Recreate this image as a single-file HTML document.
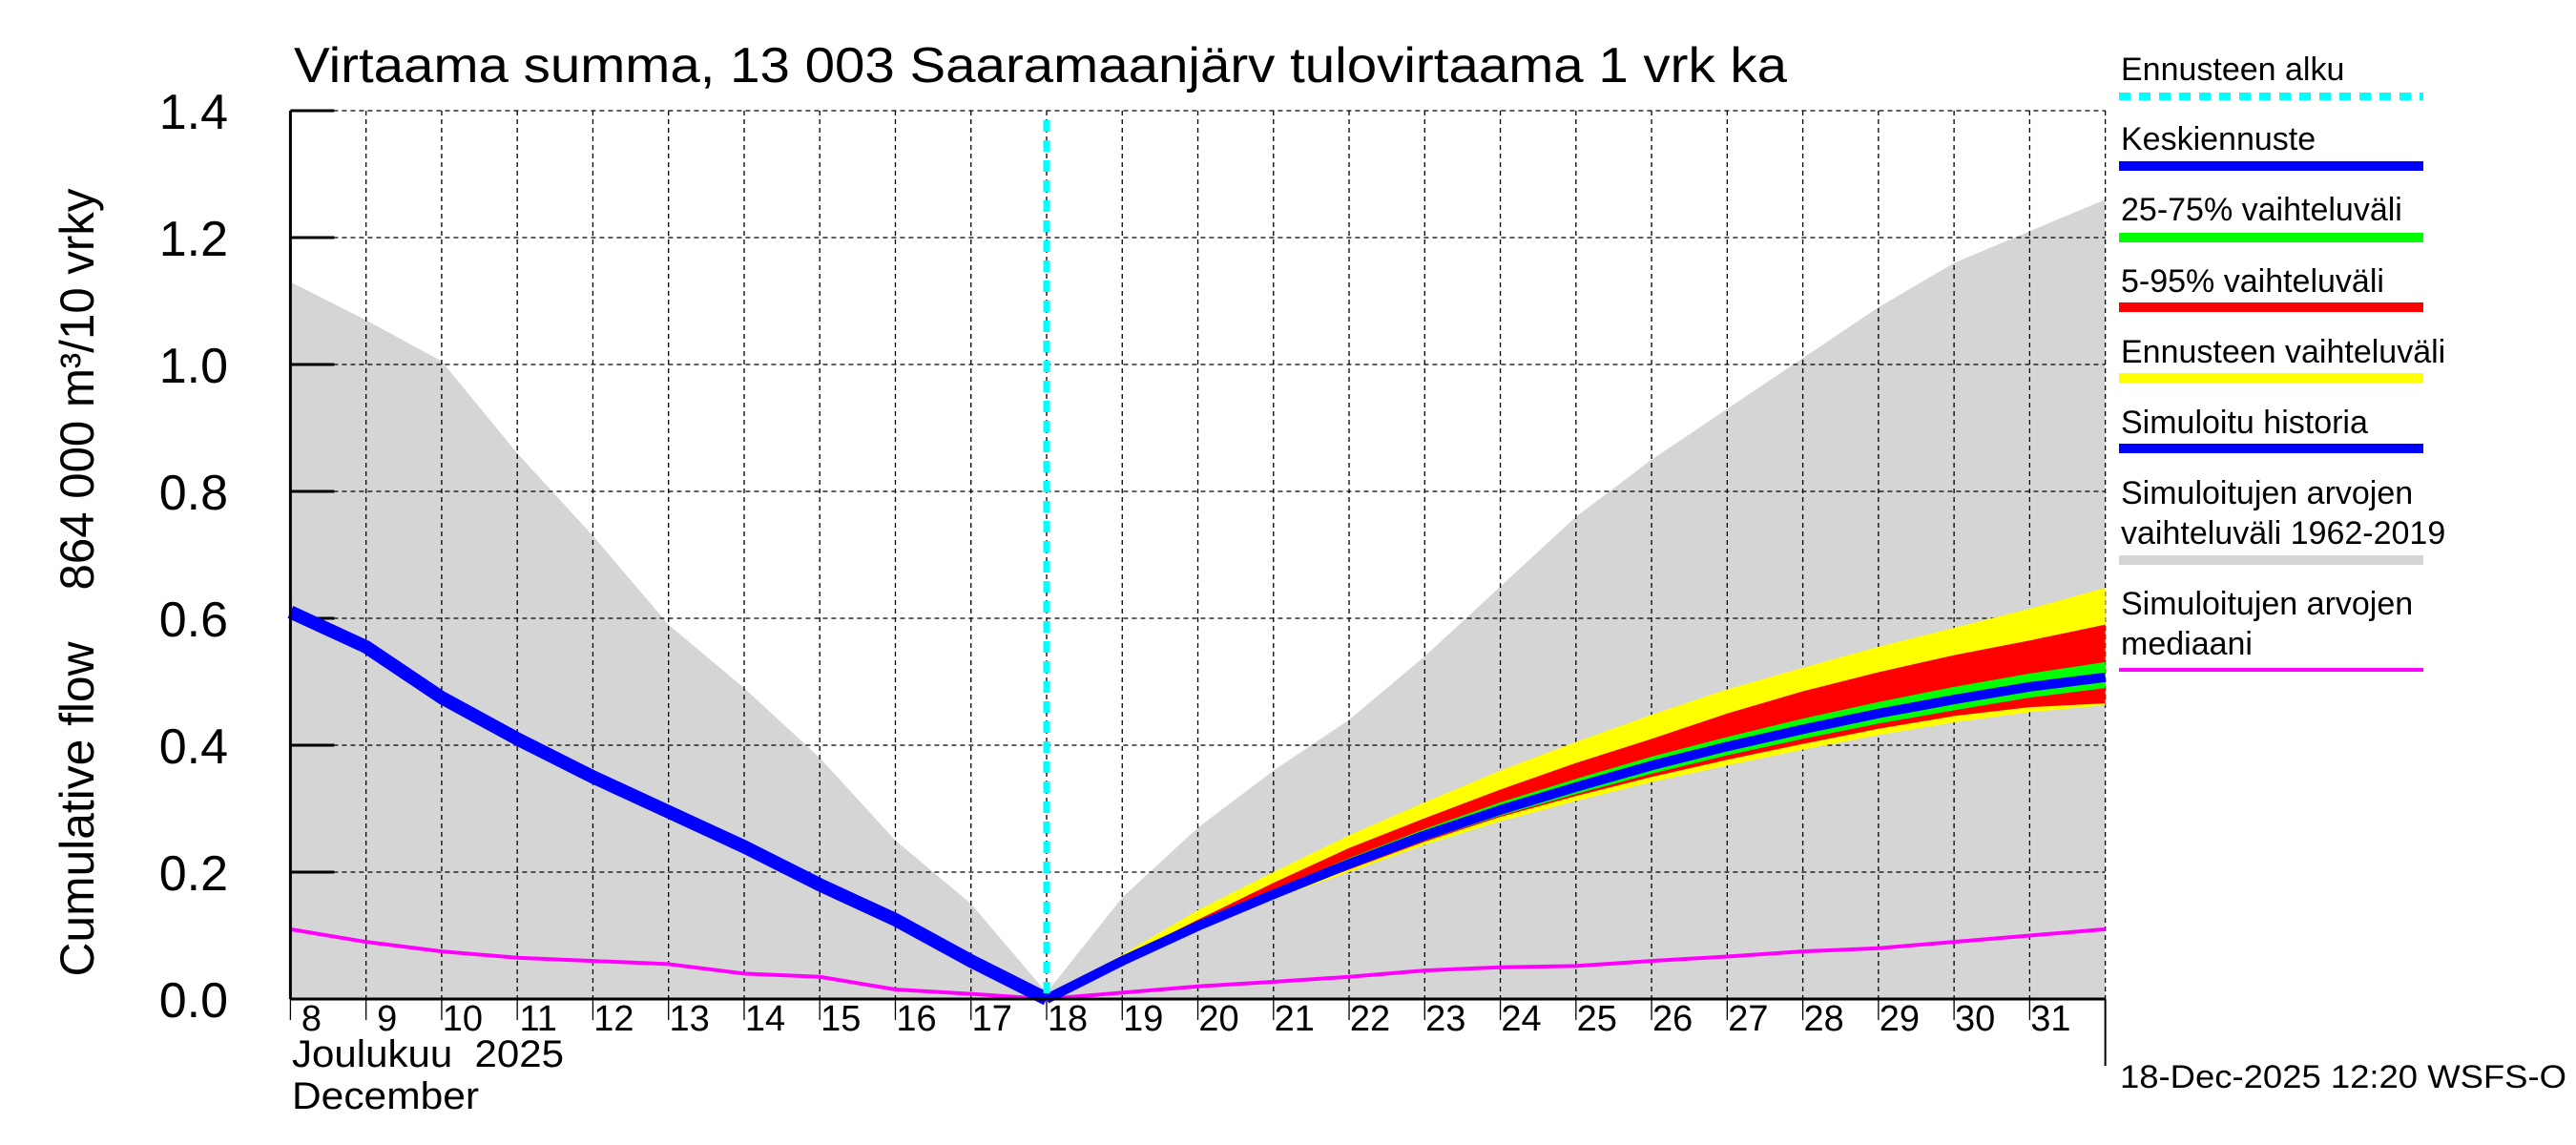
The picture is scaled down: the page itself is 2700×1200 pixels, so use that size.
<!DOCTYPE html>
<html><head><meta charset="utf-8"><style>
html,body{margin:0;padding:0;background:#fff;}
svg{display:block;font-family:"Liberation Sans",sans-serif;}
</style></head><body>
<svg id="chart" width="2700" height="1200" viewBox="0 0 2700 1200" xmlns="http://www.w3.org/2000/svg">
<g id="plot"></g>
<text x="308" y="86" font-size="52" textLength="1565" lengthAdjust="spacingAndGlyphs">Virtaama summa, 13 003 Saaramaanjärv tulovirtaama 1 vrk ka</text>
<text transform="translate(98,848) rotate(-90)" text-anchor="middle" font-size="50" textLength="351" lengthAdjust="spacingAndGlyphs">Cumulative flow</text>
<text transform="translate(98,408) rotate(-90)" text-anchor="middle" font-size="50" textLength="421" lengthAdjust="spacingAndGlyphs">864 000 m³/10 vrky</text>
<text x="306" y="1118" font-size="40" textLength="285" lengthAdjust="spacingAndGlyphs" xml:space="preserve">Joulukuu  2025</text>
<text x="306" y="1162" font-size="40" textLength="196" lengthAdjust="spacingAndGlyphs">December</text>
<text x="2222" y="1140" font-size="34" textLength="468" lengthAdjust="spacingAndGlyphs">18-Dec-2025 12:20 WSFS-O</text>
<g id="legend"></g>
</svg>
<script>
const days = [8,9,10,11,12,13,14,15,16,17,18,19,20,21,22,23,24,25,26,27,28,29,30,31,32];
const yTicks = [0,0.2,0.4,0.6,0.8,1.0,1.2,1.4];
const yTickLabels = ["0.0","0.2","0.4","0.6","0.8","1.0","1.2","1.4"];
const dayLabels = [8,9,10,11,12,13,14,15,16,17,18,19,20,21,22,23,24,25,26,27,28,29,30,31];
const histDays = [8,9,10,11,12,13,14,15,16,17,18];
const histValues = [0.61,0.555,0.475,0.41,0.35,0.295,0.24,0.18,0.125,0.06,0.0];
const rangeUpper = [1.13,1.07,1.005,0.86,0.73,0.59,0.49,0.38,0.25,0.15,0.01,0.16,0.27,0.36,0.44,0.54,0.65,0.76,0.85,0.93,1.01,1.09,1.16,1.21,1.26];
const rangeLower = [0,0,0,0,0,0,0,0,0,0,0,0,0,0,0,0,0,0,0,0,0,0,0,0,0];
const medianValues = [0.11,0.09,0.075,0.065,0.06,0.055,0.04,0.035,0.015,0.008,0,0.01,0.02,0.027,0.035,0.045,0.05,0.052,0.06,0.067,0.075,0.08,0.09,0.1,0.11];
const fcDays = [18,19,20,21,22,23,24,25,26,27,28,29,30,31,32];
const fcMean = [0,0.06,0.115,0.165,0.213,0.258,0.298,0.334,0.368,0.398,0.425,0.45,0.472,0.492,0.507];
const fcYellowHi = [0,0.07,0.14,0.2,0.258,0.31,0.36,0.405,0.448,0.488,0.522,0.555,0.585,0.615,0.648];
const fcYellowLo = [0,0.058,0.108,0.158,0.2,0.243,0.28,0.312,0.342,0.368,0.393,0.416,0.436,0.452,0.463];
const fcRedHi = [0,0.065,0.125,0.183,0.238,0.285,0.33,0.372,0.41,0.45,0.485,0.515,0.542,0.565,0.59];
const fcRedLo = [0,0.059,0.11,0.16,0.204,0.248,0.287,0.32,0.35,0.377,0.402,0.426,0.446,0.46,0.466];
const fcGreenHi = [0,0.062,0.12,0.172,0.222,0.268,0.31,0.347,0.382,0.413,0.442,0.468,0.492,0.513,0.531];
const fcGreenLo = [0,0.06,0.112,0.16,0.207,0.25,0.289,0.323,0.355,0.384,0.41,0.434,0.455,0.475,0.49];

const NS="http://www.w3.org/2000/svg";
const X0=304.4, DX=79.26, Y0=1047, YS=665;
const xs=d=>X0+(d-8)*DX;
const ys=v=>Y0-v*YS;
const plot=document.getElementById('plot');
function mk(tag,attrs,parent){const e=document.createElementNS(NS,tag);for(const k in attrs)e.setAttribute(k,attrs[k]);(parent||plot).appendChild(e);return e;}
function band(xd,hi,lo,fill,name){
  let p='M'+xd.map((d,i)=>xs(d)+','+ys(hi[i])).join(' L');
  for(let i=xd.length-1;i>=0;i--)p+=' L'+xs(xd[i])+','+ys(lo[i]);
  const e=mk('path',{d:p+'Z',fill:fill});
  
  
}
function line(xd,vals,stroke,w,name){
  const e=mk('polyline',{points:xd.map((d,i)=>xs(d)+','+ys(vals[i])).join(' '),fill:'none',stroke:stroke,'stroke-width':w,'stroke-linejoin':'round'});
  
  
}
band(days,rangeUpper,rangeLower,'#d5d5d5','historical-range-band');
yTicks.forEach((v,i)=>{
  const g=mk('line',{x1:X0,x2:xs(32),y1:ys(v),y2:ys(v),stroke:'#000','stroke-width':1.3,'stroke-dasharray':'5,4'});
  
  
  const t=mk('text',{x:239,y:ys(v)+19,'text-anchor':'end','font-size':52});
  t.textContent=yTickLabels[i];
  
  
  const tk=mk('line',{x1:X0,x2:X0+46,y1:ys(v),y2:ys(v),stroke:'#000','stroke-width':3});
  
  
});
dayLabels.forEach(d=>{
  const g=mk('line',{x1:xs(d),x2:xs(d),y1:ys(1.4),y2:Y0,stroke:'#000','stroke-width':1.3,'stroke-dasharray':'5,4'});
  
  
  const tk=mk('line',{x1:xs(d),x2:xs(d),y1:Y0,y2:Y0+22,stroke:'#000','stroke-width':1.3});
  
  
  const t=mk('text',{x:xs(d)+22,y:1080,'text-anchor':'middle','font-size':38});
  t.textContent=d;
  
  
});
mk('line',{x1:xs(32),x2:xs(32),y1:ys(1.4),y2:Y0,stroke:'#000','stroke-width':1.3,'stroke-dasharray':'5,4'});
band(fcDays,fcYellowHi,fcYellowLo,'#ffff00','forecast-range-band');
band(fcDays,fcRedHi,fcRedLo,'#ff0000','band-5-95');
band(fcDays,fcGreenHi,fcGreenLo,'#00ff00','band-25-75');
line(days,medianValues,'#ff00ff',4,'median-line');
line(histDays,histValues,'#0000ff',14,'simulated-history-line');
line(fcDays,fcMean,'#0000ff',10,'mean-forecast-line');
const cy=mk('line',{x1:xs(18),x2:xs(18),y1:ys(1.4)+10,y2:Y0,stroke:'#00ffff','stroke-width':7,'stroke-dasharray':'12,9'});


mk('line',{x1:X0,x2:X0,y1:ys(1.4),y2:Y0,stroke:'#000','stroke-width':3});
mk('line',{x1:X0,x2:xs(32),y1:Y0,y2:Y0,stroke:'#000','stroke-width':3});
mk('line',{x1:xs(32),x2:xs(32),y1:Y0,y2:1117,stroke:'#000','stroke-width':2});
const leg=document.getElementById('legend');
const items=[
 {t:['Ennusteen alku'],ty:[84],ly:101,c:'#00ffff',w:8,dash:'12,9',n:'legend-forecast-start'},
 {t:['Keskiennuste'],ty:[157],ly:174,c:'#0000ff',w:10,n:'legend-mean-forecast'},
 {t:['25-75% vaihteluväli'],ty:[231],ly:249,c:'#00ff00',w:10,n:'legend-25-75'},
 {t:['5-95% vaihteluväli'],ty:[306],ly:322,c:'#ff0000',w:10,n:'legend-5-95'},
 {t:['Ennusteen vaihteluväli'],ty:[380],ly:396,c:'#ffff00',w:10,n:'legend-forecast-range'},
 {t:['Simuloitu historia'],ty:[454],ly:470,c:'#0000ff',w:10,n:'legend-simulated-history'},
 {t:['Simuloitujen arvojen','vaihteluväli 1962-2019'],ty:[528,570],ly:587,c:'#d5d5d5',w:10,n:'legend-historical-range'},
 {t:['Simuloitujen arvojen','mediaani'],ty:[644,686],ly:702,c:'#ff00ff',w:4,n:'legend-median'}
];
items.forEach(it=>{
  const g=mk('g',{},leg);
  
  
  it.t.forEach((s,i)=>{const t=mk('text',{x:2223,y:it.ty[i],'font-size':34},g);t.textContent=s;});
  const a={x1:2221,x2:2540,y1:it.ly,y2:it.ly,stroke:it.c,'stroke-width':it.w};
  if(it.dash)a['stroke-dasharray']=it.dash;
  mk('line',a,g);
});
</script>
</body></html>
